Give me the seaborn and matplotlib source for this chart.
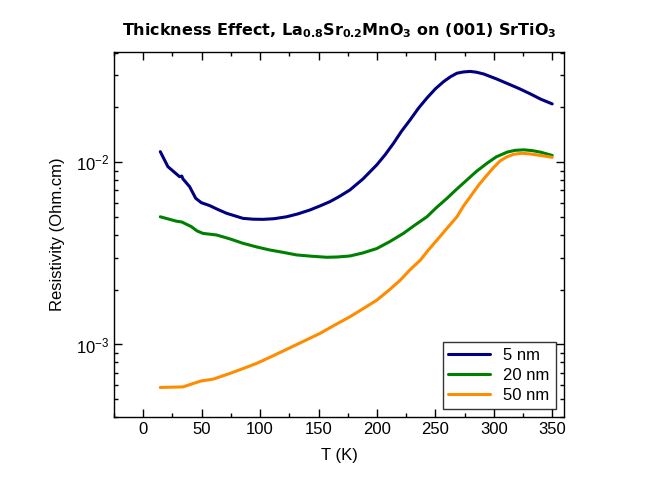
import numpy as np
import pandas as pd
import matplotlib
matplotlib.use("Agg")
import matplotlib.pyplot as plt
import seaborn as sns
from matplotlib.ticker import LogLocator, MultipleLocator

# data (T in K, resistivity in Ohm.cm)
T_5nm = [14.6, 21.1, 31.1, 33.0, 34.0, 39.7, 44.9, 49.7, 56.9, 64.0, 71.2, 85.4, 94.0, 102.6, 112.0,
         122.6, 132.0, 142.6, 151.0, 159.8, 168.0, 176.9, 188.0, 199.8, 207.0, 214.1, 221.0, 228.4,
         235.5, 242.7, 250.0, 257.0, 263.0, 268.4, 274.0, 279.8, 285.0, 291.3, 302.0, 314.1, 322.0,
         331.3, 340.0, 349.9]
rho_5nm = [0.01143, 0.00946, 0.00833, 0.0084, 0.0081, 0.00734, 0.00634, 0.0060, 0.00578, 0.0055,
           0.00525, 0.00492, 0.00487, 0.00486, 0.00490, 0.00502, 0.0052, 0.00547, 0.00575, 0.00608,
           0.0065, 0.00705, 0.0081, 0.00967, 0.0110, 0.0127, 0.0148, 0.0171, 0.0198, 0.0225, 0.0253,
           0.0277, 0.0295, 0.0308, 0.0313, 0.0315, 0.0312, 0.0305, 0.0287, 0.0266, 0.0253, 0.0237,
           0.0222, 0.0209]

T_20nm = [14.6, 28.3, 33.0, 41.2, 46.0, 51.1, 62.6, 74.0, 85.4, 97.0, 108.3, 120.0, 131.2, 144.0,
          156.9, 166.0, 176.9, 188.0, 199.8, 211.0, 222.6, 232.0, 242.7, 251.0, 259.9, 268.0, 277.0,
          285.0, 294.2, 302.0, 311.3, 318.0, 325.6, 333.0, 339.9, 349.9]
rho_20nm = [0.00502, 0.00475, 0.0047, 0.00443, 0.0042, 0.00407, 0.00399, 0.0038, 0.00359, 0.00343,
            0.0033, 0.0032, 0.0031, 0.00305, 0.00301, 0.00302, 0.00306, 0.00318, 0.00336, 0.00367,
            0.00407, 0.0045, 0.00502, 0.00565, 0.00634, 0.0071, 0.0080, 0.0089, 0.00988, 0.0107,
            0.01136, 0.01162, 0.0117, 0.01158, 0.01136, 0.0109]

T_50nm = [14.6, 34.0, 42.5, 49.7, 59.7, 74.0, 86.0, 96.9, 110.0, 122.6, 137.0, 151.2, 164.0, 176.9,
          188.0, 199.8, 210.0, 219.8, 228.0, 237.0, 244.0, 251.3, 260.0, 268.4, 274.0, 279.8, 287.0,
          294.2, 300.0, 305.6, 311.0, 317.0, 324.0, 331.3, 340.0, 349.9]
rho_50nm = [0.000581, 0.000585, 0.00061, 0.000631, 0.000645, 0.000693, 0.00074, 0.000787, 0.00086,
            0.00094, 0.00104, 0.00115, 0.00128, 0.00142, 0.00157, 0.00175, 0.00198, 0.00225, 0.00256,
            0.0029, 0.0033, 0.00374, 0.00435, 0.00502, 0.00575, 0.00647, 0.0075, 0.00851, 0.0094,
            0.0102, 0.0107, 0.01106, 0.0112, 0.0111, 0.0109, 0.01064]

labels = ["5 nm", "20 nm", "50 nm"]
colors = ["#000080", "#008000", "#ff8c00"]

df = pd.concat([
    pd.DataFrame({"T": T_5nm, "rho": rho_5nm, "film": labels[0]}),
    pd.DataFrame({"T": T_20nm, "rho": rho_20nm, "film": labels[1]}),
    pd.DataFrame({"T": T_50nm, "rho": rho_50nm, "film": labels[2]}),
])

sns.set_style("ticks")
plt.rcParams['font.family'] = ['Liberation Sans', 'DejaVu Sans']
plt.rcParams['text.color'] = 'black'
plt.rcParams['axes.labelcolor'] = 'black'
plt.rcParams['xtick.color'] = 'black'
plt.rcParams['ytick.color'] = 'black'

fig = plt.figure(figsize=(6.5, 4.9), dpi=100)
ax = fig.add_axes([0.1754, 0.149, 0.6923, 0.745])

sns.lineplot(data=df, x="T", y="rho", hue="film", palette=colors, sort=False,
             estimator=None, linewidth=2.2, ax=ax)

ax.set_yscale("log")
ax.set_xlim(-25, 360)
ax.set_ylim(4.0e-4, 4.03e-2)
ax.xaxis.set_major_locator(MultipleLocator(50))
ax.xaxis.set_minor_locator(MultipleLocator(25))
ax.yaxis.set_major_locator(LogLocator(base=10))
ax.yaxis.set_minor_locator(LogLocator(base=10, subs=np.arange(2, 10)))
ax.yaxis.set_minor_formatter(plt.NullFormatter())

ax.tick_params(which="both", direction="in", top=True, right=True, labelsize=12, color="black")
ax.tick_params(which="major", length=6, width=1)
ax.tick_params(which="minor", length=3, width=1)
for s in ax.spines.values():
    s.set_linewidth(1)
    s.set_color("black")

ax.set_xlabel("T (K)", fontsize=12, labelpad=8)
ax.set_ylabel("Resistivity (Ohm.cm)", fontsize=12, labelpad=8)
ax.set_title(r"Thickness Effect, La$_\mathbf{0.8}$Sr$_\mathbf{0.2}$MnO$_\mathbf{3}$ on (001) SrTiO$_\mathbf{3}$",
             fontsize=11.5, fontweight="bold", family="DejaVu Sans", pad=12, color="black")

leg = ax.legend(loc="lower right", fontsize=12, frameon=True, fancybox=False,
                edgecolor="black", handlelength=2.5, borderaxespad=0.5,
                labelspacing=0.3, borderpad=0.35)
leg.get_frame().set_linewidth(1)

fig.savefig("out.png", dpi=100)
